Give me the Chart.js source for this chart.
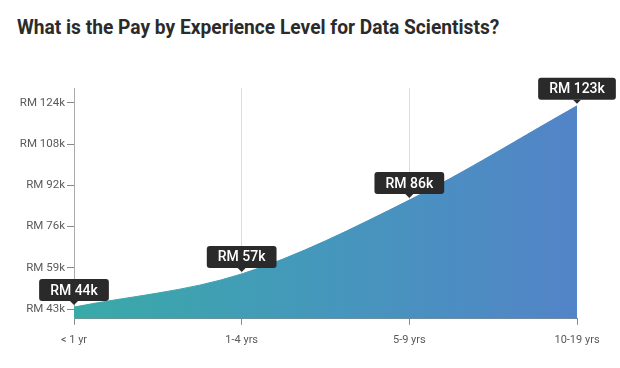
<!DOCTYPE html>
<html>
<head>
<meta charset="utf-8">
<script src="https://cdn.jsdelivr.net/npm/chart.js@4/dist/chart.umd.min.js"></script>
<style>
  html, body { margin: 0; padding: 0; background: #fff; }
  #wrap { position: relative; width: 620px; height: 368px; }
  #title {
    position: absolute; left: 17px; top: 15px;
    font: 700 21px Roboto, sans-serif; color: #2b2b2b;
    white-space: nowrap; transform: scaleX(0.913); transform-origin: 0 0;
  }
  canvas { position: absolute; left: 0; top: 0; }
</style>
</head>
<body>
<div id="wrap">
  <div id="title">What is the Pay by Experience Level for Data Scientists?</div>
  <canvas id="payChart" width="620" height="368"></canvas>
</div>
<script>
const experience = ['< 1 yr', '1-4 yrs', '5-9 yrs', '10-19 yrs'];
const pay = [44, 57, 86, 123];
const yTicks = [43.2, 59.4, 75.6, 91.8, 108.0, 124.2];
const yMin = 39.4;
const yMax = 130;

const fmt = v => 'RM ' + Math.round(v) + 'k';

function areaGradient(context) {
  const area = context.chart.chartArea;
  if (!area) return '#4596bd';
  const g = context.chart.ctx.createLinearGradient(area.left, 0, area.right, 0);
  g.addColorStop(0, '#39aaa7');
  g.addColorStop(0.5, '#4597bc');
  g.addColorStop(1, '#5284c8');
  return g;
}

// dark value boxes above each point
const valueBoxes = {
  id: 'valueBoxes',
  afterDatasetsDraw(chart) {
    const ctx = chart.ctx;
    const pts = chart.getDatasetMeta(0).data;
    ctx.save();
    ctx.font = '500 14px Roboto, sans-serif';
    ctx.textAlign = 'center';
    ctx.textBaseline = 'middle';
    pts.forEach((p, i) => {
      const label = fmt(pay[i]);
      const w = ctx.measureText(label).width + 22;
      const h = 22;
      const bottom = p.y - 6;
      const top = bottom - h;
      const left = p.x - w / 2;
      ctx.fillStyle = '#2a2a2a';
      ctx.beginPath();
      ctx.roundRect(left, top, w, h, 3);
      ctx.fill();
      ctx.beginPath();
      ctx.moveTo(p.x - 4, bottom);
      ctx.lineTo(p.x + 4, bottom);
      ctx.lineTo(p.x, bottom + 4);
      ctx.closePath();
      ctx.fill();
      ctx.fillStyle = '#fff';
      ctx.fillText(label, p.x, top + h / 2 + 1);
    });
    ctx.restore();
  }
};

new Chart(document.getElementById('payChart'), {
  type: 'line',
  data: {
    labels: experience,
    datasets: [{
      data: pay,
      fill: 'start',
      backgroundColor: areaGradient,
      borderColor: areaGradient,
      borderWidth: 1,
      cubicInterpolationMode: 'monotone',
      pointRadius: 0
    }]
  },
  options: {
    responsive: false,
    animation: false,
    layout: { padding: { left: 18, right: 43, top: 88, bottom: 12 } },
    plugins: {
      legend: { display: false },
      tooltip: { enabled: false }
    },
    scales: {
      x: {
        offset: false,
        grid: {
          color: c => (c.index === 1 || c.index === 2) ? '#dcdcdc' : 'rgba(0,0,0,0)',
          tickColor: '#888',
          tickLength: 6
        },
        border: { color: '#888' },
        ticks: { color: '#5a5a5a', font: { family: 'Roboto', size: 11 }, padding: 9, maxRotation: 0 }
      },
      y: {
        min: yMin,
        max: yMax,
        afterBuildTicks: s => { s.ticks = yTicks.map(v => ({ value: v })); },
        afterFit: s => { s.width = 56; },
        grid: { drawOnChartArea: false, tickColor: '#888', tickLength: 7 },
        border: { color: '#aaa' },
        ticks: { color: '#5a5a5a', font: { family: 'Roboto', size: 11.5 }, padding: 2, callback: v => fmt(v) }
      }
    }
  },
  plugins: [valueBoxes]
});
</script>
</body>
</html>
